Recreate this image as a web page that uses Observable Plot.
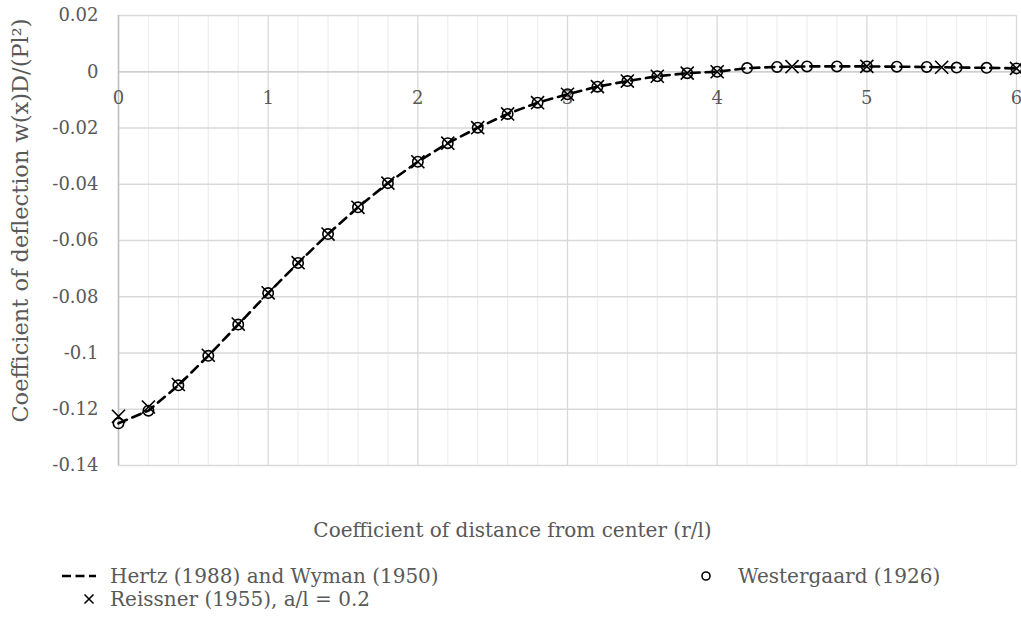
<!DOCTYPE html>
<html>
<head>
<meta charset="utf-8">
<script src="https://cdn.jsdelivr.net/npm/d3@7"></script>
<script src="https://cdn.jsdelivr.net/npm/@observablehq/plot@0.6"></script>
<style>
  body { margin: 0; background: #fff; }
  #wrap { position: relative; width: 1021px; height: 620px; font-family: "DejaVu Serif", serif; color: #595959; }
  .leg { position: absolute; display: flex; align-items: center; font-size: 20px; white-space: nowrap; }
  .leg svg { display: block; }
</style>
</head>
<body>
<div id="wrap"></div>
<script>
// ---- data ----
const hertzX = [0,0.2,0.4,0.6,0.8,1.0,1.2,1.4,1.6,1.8,2.0,2.2,2.4,2.6,2.8,3.0,3.2,3.4,3.6,3.8,4.0,4.2,4.4,4.6,4.8,5.0,5.2,5.4,5.6,5.8,6.0];
const hertzY = [-0.125,-0.1205,-0.1115,-0.1010,-0.0899,-0.0787,-0.0680,-0.0577,-0.0482,-0.0396,-0.0320,-0.0254,-0.0199,-0.0150,-0.0110,-0.0080,-0.0053,-0.0033,-0.0016,-0.0005,0.0000,0.0013,0.0017,0.0019,0.0019,0.0019,0.0018,0.0017,0.0015,0.0014,0.0012];

const westX = [0,0.2,0.4,0.6,0.8,1.0,1.2,1.4,1.6,1.8,2.0,2.2,2.4,2.6,2.8,3.0,3.2,3.4,3.6,3.8,4.0,4.2,4.4,4.6,4.8,5.0,5.2,5.4,5.6,5.8,6.0];
const westY = [-0.125,-0.1205,-0.1115,-0.1010,-0.0899,-0.0787,-0.0680,-0.0577,-0.0482,-0.0396,-0.0320,-0.0254,-0.0199,-0.0150,-0.0110,-0.0080,-0.0053,-0.0033,-0.0016,-0.0005,0.0000,0.0013,0.0017,0.0019,0.0019,0.0019,0.0018,0.0017,0.0015,0.0014,0.0012];

const reisX = [0,0.2,0.4,0.6,0.8,1.0,1.2,1.4,1.6,1.8,2.0,2.2,2.4,2.6,2.8,3.0,3.2,3.4,3.6,3.8,4.0,4.5,5.0,5.5,6.0];
const reisY = [-0.1225,-0.1192,-0.1112,-0.1008,-0.0897,-0.0786,-0.0679,-0.0577,-0.0482,-0.0396,-0.0320,-0.0254,-0.0199,-0.0150,-0.0110,-0.0080,-0.0053,-0.0033,-0.0016,-0.0005,0.0000,0.0018,0.0019,0.0016,0.0012];

const xMajor = [0,1,2,3,4,5,6];
const xMinor = [0.2,0.4,0.6,0.8,1.2,1.4,1.6,1.8,2.2,2.4,2.6,2.8,3.2,3.4,3.6,3.8,4.2,4.4,4.6,4.8,5.2,5.4,5.6,5.8];
const yTicks = [-0.14,-0.12,-0.1,-0.08,-0.06,-0.04,-0.02,0,0.02];

const xTitle = "Coefficient of distance from center (r/l)";
const yTitle = "Coefficient of deflection w(x)D/(Pl²)";
const seriesNames = ["Hertz (1988) and Wyman (1950)", "Westergaard (1926)", "Reissner (1955), a/l = 0.2"];

const hertz = hertzX.map((x, i) => ({x, y: hertzY[i]}));
const west = westX.map((x, i) => ({x, y: westY[i]}));
const reis = reisX.map((x, i) => ({x, y: reisY[i]}));

const gray = "#595959";
const fmt = d => d === 0 ? "0" : String(+d.toFixed(2));

const chart = Plot.plot({
  width: 1021,
  height: 555,
  marginLeft: 118,
  marginRight: 5,
  marginTop: 15,
  marginBottom: 90,
  style: { fontFamily: "DejaVu Serif, serif", fontSize: "18px", background: "#fff", overflow: "visible" },
  x: { domain: [0, 6], axis: null },
  y: { domain: [-0.14, 0.02], axis: null },
  marks: [
    Plot.gridX(xMinor, { stroke: "#efefef", strokeOpacity: 1, strokeWidth: 1.3 }),
    Plot.gridX(xMajor, { stroke: "#d9d9d9", strokeOpacity: 1, strokeWidth: 1.3 }),
    Plot.gridY(yTicks, { stroke: "#d9d9d9", strokeOpacity: 1, strokeWidth: 1.3 }),
    Plot.ruleY([0], { stroke: "#cfcfcf", strokeWidth: 1.5 }),
    Plot.ruleX([0], { stroke: "#bfbfbf", strokeWidth: 1.5 }),
    Plot.axisY(yTicks, { tickSize: 0, tickPadding: 20, tickFormat: fmt, fill: gray, fontSize: 18, label: null }),
    Plot.text(xMajor, { x: d => d, y: 0, dy: 26, text: d => String(d), fill: gray, fontSize: 18 }),
    Plot.text([yTitle], { frameAnchor: "left", textAnchor: "middle", dx: -98, dy: -20, rotate: -90, fill: gray, fontSize: 22.5 }),
    Plot.text([xTitle], { frameAnchor: "bottom", textAnchor: "middle", dy: 71, dx: -55, fill: gray, fontSize: 20 }),
    Plot.line(hertz, { x: "x", y: "y", stroke: "#000", strokeWidth: 2.6, strokeDasharray: "9,6" }),
    Plot.dot(west, { x: "x", y: "y", symbol: "circle", r: 5.2, stroke: "#000", strokeWidth: 1.6, fill: "none" }),
    Plot.dot(reis, { x: "x", y: "y", symbol: "times", r: 6, stroke: "#000", strokeWidth: 1.6 })
  ]
});

const wrap = document.getElementById("wrap");
wrap.appendChild(chart);

function legendItem(left, top, swatch, label, textLeft) {
  const d = document.createElement("div");
  d.className = "leg";
  d.style.left = left + "px";
  d.style.top = top + "px";
  d.innerHTML = swatch + `<span style="position:absolute; left:${textLeft - left}px; top:50%; transform:translateY(-50%)">${label}</span>`;
  wrap.appendChild(d);
}
const dashSw = `<svg width="36" height="10"><line x1="1" y1="5" x2="35" y2="5" stroke="#000" stroke-width="2.6" stroke-dasharray="9,4.5"/></svg>`;
const circSw = `<svg width="12" height="12"><circle cx="6" cy="6" r="4" fill="none" stroke="#000" stroke-width="1.6"/></svg>`;
const timesSw = `<svg width="14" height="14"><path d="M2.5,2.5L11.5,11.5M11.5,2.5L2.5,11.5" stroke="#000" stroke-width="1.6"/></svg>`;
legendItem(61, 571, dashSw, seriesNames[0], 110);
legendItem(700, 570, circSw, seriesNames[1], 738);
legendItem(82, 592, timesSw, seriesNames[2], 110);
</script>
</body>
</html>
